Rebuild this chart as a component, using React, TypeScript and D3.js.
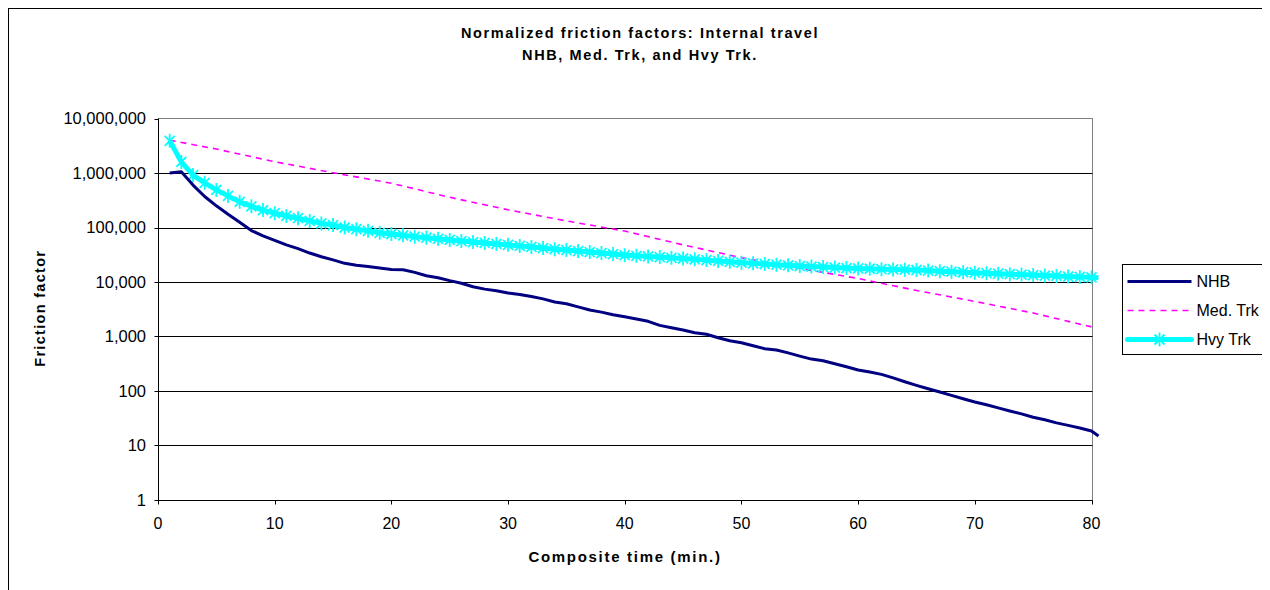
import * as d3 from "d3";

// composite time (min.)
const minutes = [
  1, 2, 3, 4, 5, 6, 7, 8, 9, 10, 11, 12, 13, 14, 15, 16, 17, 18, 19, 20,
  21, 22, 23, 24, 25, 26, 27, 28, 29, 30, 31, 32, 33, 34, 35, 36, 37, 38, 39, 40,
  41, 42, 43, 44, 45, 46, 47, 48, 49, 50, 51, 52, 53, 54, 55, 56, 57, 58, 59, 60,
  61, 62, 63, 64, 65, 66, 67, 68, 69, 70, 71, 72, 73, 74, 75, 76, 77, 78, 79, 80,
  80.6,
];

const nhb = [
  1000000, 1050000, 600000, 370000, 250000, 175000, 125000, 88000, 70000, 58000,
  48000, 41000, 34000, 29000, 25500, 22000, 20300, 19200, 18000, 17000,
  16800, 15000, 13000, 12000, 10600, 9500, 8200, 7400, 6900, 6300,
  5900, 5400, 4900, 4300, 4000, 3500, 3060, 2800, 2500, 2300,
  2100, 1900, 1600, 1450, 1320, 1170, 1100, 950, 835, 770,
  676, 597, 564, 500, 437, 385, 360, 317, 279, 243,
  223, 202, 174, 148, 127, 110, 96, 83, 72, 63,
  56, 49, 43, 38, 33, 29.7, 26, 23.4, 21, 18.5,
  15,
];

const hvyTrk = [
  3900000, 1600000, 915000, 660000, 490000, 380000, 296000, 245000, 209000, 183000,
  163000, 148000, 132000, 119000, 111000, 100000, 93000, 87000, 80000, 76000,
  72000, 68000, 65000, 62000, 59000, 56500, 54000, 52000, 50000, 48000,
  46000, 44000, 42000, 40000, 38600, 37000, 35500, 34000, 32500, 31000,
  30200, 29500, 28700, 27800, 27000, 26100, 25200, 24300, 23500, 22600,
  22000, 21400, 20800, 20200, 19600, 19200, 18800, 18400, 18000, 17700,
  17500, 17200, 17000, 16800, 16600, 16200, 15800, 15500, 15100, 14800,
  14500, 14200, 13900, 13700, 13400, 13100, 12900, 12600, 12400, 12200,
  12000,
];

const medMinutes = [1, 5, 10, 15, 20, 25, 30, 35, 40, 45, 50, 55, 60, 65, 70, 75, 80];
const medTrk = [
  4000000, 2750000, 1610000, 1010000, 650000, 358000, 211000, 132000, 86000,
  48000, 27900, 17800, 11600, 7000, 4400, 2700, 1500,
];

const yTicks = [1, 10, 100, 1000, 10000, 100000, 1000000, 10000000];
const xTicks = [0, 10, 20, 30, 40, 50, 60, 70, 80];

const W = 1262;
const H = 582;
const FONT = "Arial, 'Liberation Sans', sans-serif";
const NAVY = "#000080";
const MAGENTA = "#FF00FF";
const CYAN = "#00FFFF";

const PLOT = { left: 150, right: 1083.5, top: 110.5, bottom: 492 };

const fmt = d3.format(",");
const crisp = (v: number) => Math.round(v) + 0.5;

const Star = ({ x, y }: { x: number; y: number }) => (
  <path
    d={`M${x - 5},${y - 5}L${x + 5},${y + 5}M${x - 5},${y + 5}L${x + 5},${y - 5}M${x},${y - 7}L${x},${y + 7}`}
    stroke={CYAN}
    strokeWidth={1.8}
    fill="none"
  />
);

export default function App() {
  const xScale = d3.scaleLinear().domain([0, 80]).range([PLOT.left, PLOT.right]);
  const yScale = d3.scaleLog().domain([1, 1e7]).range([PLOT.bottom, PLOT.top]);

  const line = d3
    .line<[number, number]>()
    .x((d) => xScale(d[0]))
    .y((d) => yScale(d[1]));

  const nhbPts = minutes.map((m, i) => [m, nhb[i]] as [number, number]);
  const hvyPts = minutes.map((m, i) => [m, hvyTrk[i]] as [number, number]);
  const medPts = medMinutes.map((m, i) => [m, medTrk[i]] as [number, number]);

  const legendItems = ["NHB", "Med. Trk", "Hvy Trk"];
  const lg = { x: 1114.5, y: 256.5, w: 142, h: 90 };

  return (
    <svg width={W} height={H} style={{ display: "block" }} fontFamily={FONT}>
      <rect x={0} y={0} width={W} height={H} fill="#fff" />
      <rect x={0.5} y={0.5} width={W + 50} height={H + 50} fill="none" stroke="#000" strokeWidth={1} />

      {/* titles */}
      <text x={632} y={30} textAnchor="middle" fontSize={14.5} fontWeight="bold" letterSpacing={1.6}>
        Normalized friction factors: Internal travel
      </text>
      <text x={632} y={52} textAnchor="middle" fontSize={14.5} fontWeight="bold" letterSpacing={1.6}>
        NHB, Med. Trk, and Hvy Trk.
      </text>

      {/* plot frame + grid */}
      <rect
        x={crisp(PLOT.left)}
        y={crisp(PLOT.top) - 1}
        width={crisp(PLOT.right) - crisp(PLOT.left)}
        height={crisp(PLOT.bottom) - crisp(PLOT.top) + 1}
        fill="none"
        stroke="#808080"
      />
      {yTicks.slice(1, -1).map((t) => (
        <line key={t} x1={PLOT.left} x2={crisp(PLOT.right)} y1={crisp(yScale(t))} y2={crisp(yScale(t))} stroke="#000" />
      ))}

      {/* axes */}
      <line x1={crisp(PLOT.left)} x2={crisp(PLOT.left)} y1={crisp(PLOT.top) - 1} y2={crisp(PLOT.bottom)} stroke="#000" />
      <line x1={crisp(PLOT.left)} x2={crisp(PLOT.right)} y1={crisp(PLOT.bottom)} y2={crisp(PLOT.bottom)} stroke="#000" />
      {yTicks.map((t) => (
        <g key={t}>
          <line x1={crisp(PLOT.left) - 4} x2={crisp(PLOT.left)} y1={crisp(yScale(t))} y2={crisp(yScale(t))} stroke="#000" />
          <text x={138} y={yScale(t)} dy="0.36em" textAnchor="end" fontSize={16.5}>
            {fmt(t)}
          </text>
        </g>
      ))}
      {xTicks.map((t) => (
        <g key={t}>
          <line x1={crisp(xScale(t))} x2={crisp(xScale(t))} y1={crisp(PLOT.bottom)} y2={crisp(PLOT.bottom) + 4} stroke="#000" />
          <text x={xScale(t)} y={521} textAnchor="middle" fontSize={16}>
            {t}
          </text>
        </g>
      ))}
      <text x={617} y={554} textAnchor="middle" fontSize={15} fontWeight="bold" letterSpacing={1.7}>
        Composite time (min.)
      </text>
      <text
        transform={`translate(37,${(PLOT.top + PLOT.bottom) / 2 - 1}) rotate(-90)`}
        textAnchor="middle"
        fontSize={14.5}
        fontWeight="bold"
        letterSpacing={1.3}
      >
        Friction factor
      </text>

      {/* series */}
      <path d={line(medPts) ?? ""} fill="none" stroke={MAGENTA} strokeWidth={1.6} strokeDasharray="6,5" />
      <path d={line(hvyPts) ?? ""} fill="none" stroke={CYAN} strokeWidth={5} strokeLinejoin="round" />
      {hvyPts.slice(0, 80).map((d) => (
        <Star key={d[0]} x={xScale(d[0])} y={yScale(d[1])} />
      ))}
      <path d={line(nhbPts) ?? ""} fill="none" stroke={NAVY} strokeWidth={3} strokeLinejoin="round" />

      {/* legend */}
      <rect x={lg.x} y={lg.y} width={lg.w} height={lg.h} fill="#fff" stroke="#000" />
      {legendItems.map((name, i) => {
        const cy = lg.y + 17 + i * 29;
        const x1 = lg.x + 5;
        const x2 = lg.x + 69;
        return (
          <g key={name}>
            {i === 0 && <line x1={x1} x2={x2} y1={cy} y2={cy} stroke={NAVY} strokeWidth={3} />}
            {i === 1 && <line x1={x1} x2={x2} y1={cy} y2={cy} stroke={MAGENTA} strokeWidth={1.6} strokeDasharray="6,5" />}
            {i === 2 && (
              <>
                <line x1={x1} x2={x2} y1={cy} y2={cy} stroke={CYAN} strokeWidth={5} strokeLinecap="round" />
                <Star x={(x1 + x2) / 2} y={cy} />
              </>
            )}
            <text x={lg.x + 74} y={cy} dy="0.36em" fontSize={16}>
              {name}
            </text>
          </g>
        );
      })}
    </svg>
  );
}
